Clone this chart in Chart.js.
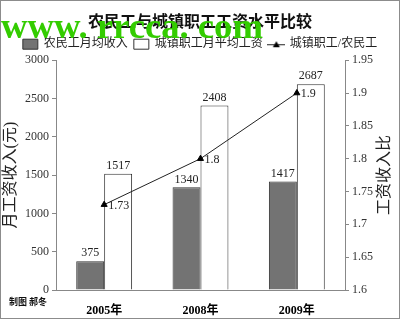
<!DOCTYPE html>
<html>
<head>
<meta charset="utf-8">
<script src="https://cdn.jsdelivr.net/npm/chart.js@4.4.0/dist/chart.umd.min.js"></script>
<style>
  html, body { margin: 0; padding: 0; background: #fff; }
  #wrap { width: 400px; height: 319px; box-sizing: border-box; border: 1px solid #8c8c8c; position: relative; }
</style>
</head>
<body>
<div id="wrap"><canvas id="wageChart"></canvas></div>
<script>
const years = ["2005年", "2008年", "2009年"];
const migrantIncome = [375, 1340, 1417];
const urbanWage = [1517, 2408, 2687];
const wageRatio = [1.73, 1.8, 1.9];
const seriesNames = ["农民工月均收入", "城镇职工月平均工资", "城镇职工/农民工"];

const FONT = "'Liberation Serif','Noto Sans CJK SC',serif";

// little line + triangle icon for the legend
const lineIcon = document.createElement("canvas");
lineIcon.width = 18;
lineIcon.height = 8;
(() => {
  const c = lineIcon.getContext("2d");
  c.strokeStyle = "#222";
  c.lineWidth = 1;
  c.beginPath(); c.moveTo(0, 4.5); c.lineTo(18, 4.5); c.stroke();
  c.fillStyle = "#000";
  c.beginPath(); c.moveTo(9, 1); c.lineTo(12.5, 7); c.lineTo(5.5, 7); c.closePath(); c.fill();
})();

const valueLabels = {
  id: "valueLabels",
  afterDatasetsDraw(chart) {
    const ctx = chart.ctx;
    ctx.save();
    ctx.font = "12px " + FONT;
    ctx.fillStyle = "#222";
    [0, 1].forEach(di => {
      chart.getDatasetMeta(di).data.forEach((el, i) => {
        ctx.textAlign = "center";
        ctx.textBaseline = "bottom";
        ctx.fillText(chart.data.datasets[di].data[i], el.x, el.y - 2);
      });
    });
    chart.getDatasetMeta(2).data.forEach((el, i) => {
      ctx.textAlign = "left";
      ctx.textBaseline = "middle";
      ctx.fillText(wageRatio[i], el.x + 4, el.y + 1);
    });
    ctx.restore();
  }
};

const extras = {
  id: "extras",
  afterDraw(chart) {
    const ctx = chart.ctx;
    const area = chart.chartArea;
    ctx.save();
    // right axis title, reads bottom to top like the left one
    ctx.translate(chart.width - 14, (area.top + area.bottom) / 2);
    ctx.rotate(-Math.PI / 2);
    ctx.font = "16px " + FONT;
    ctx.fillStyle = "#222";
    ctx.textAlign = "center";
    ctx.textBaseline = "middle";
    ctx.fillText("工资收入比", 0, 0);
    ctx.restore();

    ctx.save();
    ctx.font = "bold 9px 'Noto Sans CJK SC'";
    ctx.fillStyle = "#111";
    ctx.textBaseline = "middle";
    ctx.fillText("制图 郝冬", 8, 301);
    ctx.restore();

    // watermark
    ctx.save();
    ctx.font = "bold 36px 'Liberation Serif'";
    const txt = "www. rrcca. com";
    const w = ctx.measureText(txt).width;
    ctx.translate(0, 28);
    ctx.scale(262 / w, 1);
    ctx.fillStyle = "#33cc00";
    ctx.fillText(txt, 0, 0);
    ctx.restore();
  }
};

const chart = new Chart(document.getElementById("wageChart"), {
  type: "bar",
  data: {
    labels: years,
    datasets: [
      {
        label: seriesNames[0],
        data: migrantIncome,
        backgroundColor: "#737373",
        borderColor: "#333",
        borderWidth: 1,
        categoryPercentage: 0.58,
        barPercentage: 1,
        yAxisID: "y",
        order: 1
      },
      {
        label: seriesNames[1],
        data: urbanWage,
        backgroundColor: "#fff",
        borderColor: "#333",
        borderWidth: 1,
        categoryPercentage: 0.58,
        barPercentage: 1,
        yAxisID: "y",
        order: 1
      },
      {
        type: "line",
        label: seriesNames[2],
        data: wageRatio,
        borderColor: "#222",
        borderWidth: 1,
        pointStyle: "triangle",
        pointRadius: 3.5,
        pointBackgroundColor: "#000",
        pointBorderColor: "#000",
        yAxisID: "y1",
        order: 0
      }
    ]
  },
  options: {
    responsive: true,
    maintainAspectRatio: false,
    animation: false,
    layout: { padding: { top: 0, left: 0, right: 0, bottom: 0 } },
    plugins: {
      tooltip: { enabled: false },
      title: {
        display: true,
        text: "农民工与城镇职工工资水平比较",
        color: "#111",
        font: { family: FONT, size: 16, weight: "bold" },
        padding: { top: 12, bottom: 0 }
      },
      legend: {
        display: true,
        labels: {
          usePointStyle: true,
          pointStyleWidth: 15,
          boxHeight: 10,
          padding: 6,
          color: "#222",
          font: { family: FONT, size: 12 },
          sort: (a, b) => a.datasetIndex - b.datasetIndex,
          generateLabels(ch) {
            const items = Chart.defaults.plugins.legend.labels.generateLabels(ch);
            items.forEach(it => {
              it.pointStyle = it.datasetIndex === 2 ? lineIcon : "rect";
              it.lineWidth = 1;
              it.strokeStyle = "#333";
            });
            return items;
          }
        }
      }
    },
    scales: {
      x: {
        border: { display: true, color: "#888" },
        grid: { display: false },
        ticks: { color: "#000", font: { family: FONT, size: 12, weight: "bold" }, padding: 6 },
        afterFit(s) { s.height = 28; }
      },
      y: {
        position: "left",
        min: 0,
        max: 3000,
        ticks: { stepSize: 500, color: "#333", font: { family: FONT, size: 12 }, padding: 3, callback: v => String(v) },
        border: { display: true, color: "#888" },
        grid: { drawOnChartArea: false, tickLength: 4, color: "#888" },
        title: { display: true, text: "月工资收入(元)", color: "#222", font: { family: FONT, size: 16 }, padding: 0 },
        afterFit(s) { s.width = 55; }
      },
      y1: {
        position: "right",
        min: 1.6,
        max: 1.95,
        ticks: {
          stepSize: 0.05,
          color: "#333",
          font: { family: FONT, size: 12 },
          padding: 3,
          callback: v => String(+v.toFixed(2))
        },
        border: { display: true, color: "#888" },
        grid: { drawOnChartArea: false, tickLength: 4, color: "#888" },
        afterFit(s) { s.width = 54; }
      }
    }
  },
  plugins: [valueLabels, extras]
});

// pin the top of the plot area where the reference has it
const dy = 57 - chart.chartArea.top;
if (dy !== 0) {
  chart.options.layout.padding.top = Math.max(0, dy);
  chart.update();
}
</script>
</body>
</html>
